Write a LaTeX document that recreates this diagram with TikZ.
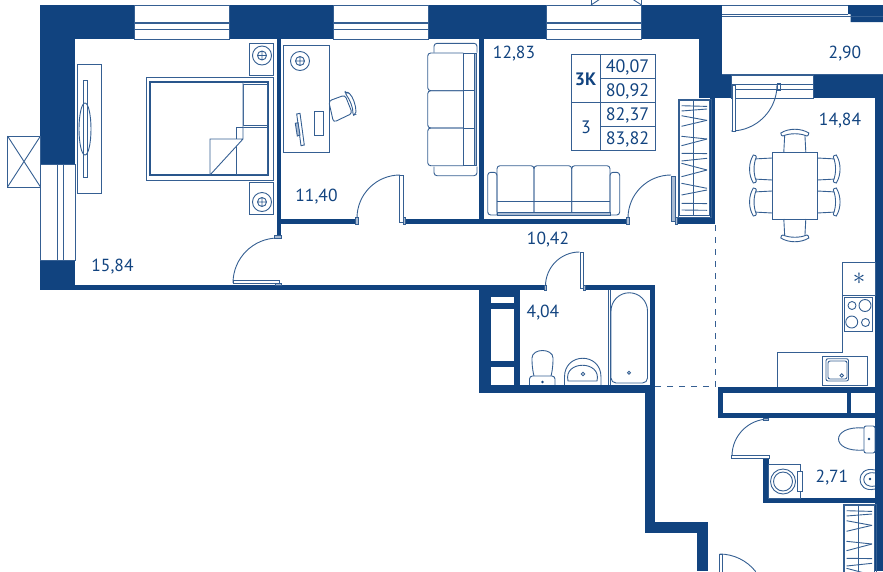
\documentclass[tikz,border=0pt]{standalone}
\usepackage{fontspec}
\setmainfont{PT Sans}
\usetikzlibrary{positioning}
\definecolor{planblue}{HTML}{11437F}
\definecolor{paleblue}{HTML}{A9BBD3}
\tikzset{
  wall/.style={fill=planblue,draw=none},
  thin line/.style={draw=planblue!85,line width=0.9pt},
  thick line/.style={draw=planblue!90,line width=1.6pt},
  area/.style={text=planblue,font=\fontsize{17.5}{18}\selectfont,inner sep=0pt},
  cell/.style={text=planblue,font=\fontsize{18}{18}\selectfont,inner sep=0pt},
  topwindow/.pic={
    \draw[thin line,fill=white] (0,0) rectangle (95,34);
    \draw[thin line] (0,17) -- (95,17) (0,18.5) -- (95,18.5) (0,24.5) -- (95,24.5);
  },
  chair/.pic={
    \draw[thin line] (-11,0) -- (-10,-19) (11,0) -- (10,-19);
    \draw[thin line,fill=white] (-14,-19) .. controls (-6,-24) and (6,-24) .. (14,-19) .. controls (14,-17) and (13,-16) .. (12,-16) .. controls (5,-19) and (-5,-19) .. (-12,-16) .. controls (-13,-16) and (-14,-17) .. cycle;
  },
  socket/.pic={
    \draw[thin line] (0,0) circle (9.5) (0,0) circle (4.5) (-4.5,0) -- (4.5,0) (0,-4.5) -- (0,4.5);
  },
  hangers/.pic={
    \draw[thin line] (0,0) rectangle (33,118);
    \draw[thin line] (1.5,1.5) rectangle (31.5,116.5);
    \draw[thin line] (15.5,1.5) -- (15.5,116.5);
    \foreach \y/\s in {6.7/0.7,12/-2,16.7/4.7,27.3/-6,37.3/2.7,46.7/-6.7,54.3/0.3,62/-2.7,64.3/6.7,77.7/-6.7,84.3/5,96/-5,104.3/0.3,111/0.3}
      \draw[thin line] (3.5,\y) -- (29,\y+\s);
  }
}
\begin{document}
\begin{tikzpicture}[x=1pt,y=-1pt]
      \useasboundingbox (0,0) rectangle (883,571);
      \clip (0,0) rectangle (883,571);

      % Outer and inner walls
      \fill[wall] (40,5) rectangle (722,39);
      \fill[wall] (40,39) rectangle (75,164);
      \fill[wall] (40,260) rectangle (75,290);
      \fill[wall] (699,39) rectangle (722,75);
      \fill[wall] (699,75) rectangle (731,98);
      \fill[wall] (813,75) rectangle (883,98);
      \fill[wall] (848,5) -- (883,5) -- (883,22) -- (850.5,22) -- (850.5,14) -- (848,14) -- cycle;
      \fill[wall] (875,98) rectangle (883,571);
      \fill[wall] (710,98) rectangle (715,224);
      \fill[wall] (277,39) rectangle (281,238);
      \fill[wall] (479,39) rectangle (484,224);
      \fill[wall] (281,219) rectangle (356,224);
      \fill[wall] (405,219) rectangle (628,224);
      \fill[wall] (677,217) rectangle (715,224);
      \fill[wall] (40,285) rectangle (545,290);
      \fill[wall] (585,285) rectangle (655,290);
      \fill[wall] (650,285) rectangle (655,393);
      \fill[wall] (479,385) rectangle (655,393);
      \fill[wall] (479,285) rectangle (491,393);
      \fill[wall] (514,285) rectangle (520,393);
      \fill[wall] (491,290) rectangle (514,297);
      \fill[wall] (491,303) rectangle (514,309);
      \fill[wall] (491,361) rectangle (514,367);
      \fill[wall] (645,393) rectangle (655,533);
      \fill[wall] (645,522) rectangle (708,533);
      \fill[wall] (696.5,533) rectangle (708,571);
      \fill[wall] (718,387) rectangle (883,392.5);
      \fill[wall] (718,387) rectangle (723,418);
      \fill[wall] (718,413) rectangle (875,418);
      \fill[wall] (846.5,392) rectangle (851,413);
      \fill[wall] (763,458) rectangle (768.5,503);
      \fill[wall] (763,498) rectangle (875,503);

      % Windows and balcony
      \pic at (134,5) {topwindow};
      \pic at (333,5) {topwindow};
      \pic at (546,5) {topwindow};
      \draw[thin line] (40,164) rectangle (75,260);
      \draw[thin line] (57,164) -- (57,260) (63.5,164) -- (63.5,260);
      \draw[thin line] (731,75) rectangle (813,98);
      \draw[thin line] (731,84) -- (813,84) (731,89) -- (813,89);
      \draw[thin line] (722,5) -- (848,5) (722,14) -- (848,14) (722,16) -- (883,16);
      \draw[thin line] (722,74.5) -- (883,74.5);
      \draw[thin line] (7.5,136) rectangle (40.5,187);
      \draw[thin line] (7.5,136) -- (40.5,187) (40.5,136) -- (7.5,187);
      \draw[thin line] (591,5) rectangle (641.5,-28);
      \draw[thin line] (591,5) -- (641.5,-28) (641.5,5) -- (591,-28);

      % Doors
      \draw[thin line] (233,283) arc[start angle=180,end angle=270,radius=45];
      \draw[thin line,fill=white] (233,280.5) rectangle (279,283.5);
      \draw[thin line,fill=paleblue] (275,283) rectangle (281,285.5) (274.5,235) rectangle (281,238);
      \draw[thin line] (357,218) arc[start angle=180,end angle=270,radius=43];
      \draw[thin line,fill=white] (399.5,175) rectangle (403,222);
      \draw[thin line,fill=paleblue] (355.5,217) rectangle (358.5,224) (403,217) rectangle (405.5,224);
      \draw[thin line] (628,218) arc[start angle=180,end angle=270,radius=43];
      \draw[thin line,fill=paleblue] (671.5,176) rectangle (675,221);
      \draw[thin line,fill=paleblue] (626.5,217) rectangle (629,224) (675,217) rectangle (677.5,224);
      \draw[thin line] (545.5,286) arc[start angle=180,end angle=270,radius=34];
      \draw[thin line,fill=white] (580,252) rectangle (583.5,288);
      \draw[thin line,fill=paleblue] (544,285) rectangle (546,290) (583.5,285) rectangle (585.5,290);
      \draw[thin line] (777,85) arc[start angle=0,end angle=90,radius=46];
      \draw[thin line,fill=white] (732,85) rectangle (735,131);
      \draw[thin line] (777.5,83) rectangle (780,90);
      \draw[thin line] (732,456) arc[start angle=180,end angle=270,radius=37];
      \draw[thin line,fill=white] (731.5,455) rectangle (769,458);
      \draw[thin line,fill=paleblue] (763,418) rectangle (768,420.5);
      \draw[thin line] (719.5,554) arc[start angle=-90,end angle=-38,radius=46];
      \draw[thin line] (719,554) rectangle (722,580);

      % Dashed zone lines
      \draw[thin line,dashed,dash pattern=on 6pt off 6pt] (715.5,225) -- (715.5,386.5) -- (655,386.5);

      % Bedroom furniture
      \draw[thin line] (77,64) rectangle (101,193.5);
      \draw[thin line] (83,80) rectangle (87,177);
      \draw[thin line] (85,129) ellipse (6 and 26);
      \draw[thin line] (146,77.5) rectangle (273,180);
      \draw[thick line] (150,82) rectangle (268,175);
      \draw[thin line,fill=white] (243,84) rectangle (267.5,125);
      \draw[thin line,fill=white] (236,127) rectangle (267.5,174);
      \draw[thin line,fill=white] (243,82) -- (243,139) -- (210,175) -- (210,139) -- (243,139);
      \draw[thin line] (249.5,43) rectangle (273.5,75);
      \draw[thin line] (249.5,182) rectangle (273.5,214);
      \pic at (262,55.5) {socket};
      \pic at (262,202) {socket};

      % Study furniture
      \draw[thin line] (283.5,45) rectangle (329,152);
      \pic at (300,61) {socket};
      \draw[thin line] (296.7,114) -- (300,113.3) -- (304.3,145) -- (301,145.7) -- cycle;
      \draw[thin line,fill=paleblue] (295.3,123.3) -- (298,122.7) -- (300,135) -- (297.3,136) -- cycle;
      \draw[thin line] (314.3,111) rectangle (323.3,135.7);
      \draw[thin line,rounded corners=3pt] (328.7,101) -- (345,95) -- (352.3,113.3) -- (333.5,122.3) -- cycle;
      \draw[thin line,fill=white,rounded corners=2pt] (345,93) -- (348,92) .. controls (353,97) and (356,105) .. (356,114) -- (353,115.5) .. controls (353,107) and (350,100) .. cycle;
      \draw[thin line,rounded corners=3pt] (434,52.5) -- (434,43.3) -- (477,43.3) -- (477,52.5);
      \draw[thin line,rounded corners=3pt] (434,166.5) -- (434,175.7) -- (477,175.7) -- (477,166.5);
      \foreach \a/\b in {53/90.7,90.7/128,128/165.7}
        \draw[thin line,rounded corners=3pt] (463.3,\a) -- (427.7,\a) -- (427.7,\b) -- (463.3,\b);
      \draw[thin line] (463.3,53) -- (463.3,165.7) (463.3,53) -- (474,53) -- (474,165.7) -- (463.3,165.7);
      \draw[thin line] (463.3,90.7) -- (474,90.7) (463.3,128) -- (474,128);
      \draw[thin line,fill=paleblue] (474,53) rectangle (476,165.7);

      % Living room furniture
      \draw[thin line,rounded corners=3pt] (497,215) -- (487.7,215) -- (487.7,172.3) -- (497,172.3) -- (497,215);
      \draw[thin line,rounded corners=3pt] (610,215) -- (619.7,215) -- (619.7,172.3) -- (610,172.3) -- (610,215);
      \foreach \a/\b in {497/534,534/571.7,571.7/610}
        \draw[thin line,rounded corners=3pt] (\a,212) -- (\a,165.7) -- (\b,165.7) -- (\b,212);
      \draw[thin line] (497,201) -- (610,201);
      \draw[thin line,fill=paleblue] (497,212) rectangle (610,215);

      % Apartment table
      \draw[thin line] (571.5,54.5) rectangle (655,150.5);
      \draw[thin line] (600,54.5) -- (600,150.5);
      \draw[thin line] (571.5,102.5) -- (655,102.5);
      \draw[thin line] (600,78.5) -- (655,78.5) (600,126.5) -- (655,126.5);
      \node[cell,font=\fontsize{18}{18}\selectfont\bfseries] (rooms) at (585.5,79) {3К};
      \node[cell] (count) at (586,127.5) {3};
      \node[cell] (living) at (627.5,67.5) {40,07};
      \node[cell] (total) at (627.5,91) {80,92};
      \node[cell] (withbalcony) at (627.5,115) {82,37};
      \node[cell] (full) at (627.5,139) {83,82};

      % Wardrobes
      \pic at (678,99) {hangers};
      \pic at (843,504) {hangers};

      % Dining table and chairs
      \draw[thin line] (772.3,152) rectangle (817.3,219);
      \pic at (794.8,152) {chair};
      \pic[rotate=180] at (794.8,219) {chair};
      \pic[rotate=90] at (772.3,169) {chair};
      \pic[rotate=90] at (772.3,202) {chair};
      \pic[rotate=-90] at (817.3,169) {chair};
      \pic[rotate=-90] at (817.3,202) {chair};

      % Kitchen
      \draw[thin line] (842,262) rectangle (875,295);
      \draw[thin line] (842,295) -- (842,352) -- (777,352) -- (777,387);
      \node[text=planblue,inner sep=0pt,font=\fontsize{30}{30}\selectfont] (fridge) at (859,279) {$\ast$};
      \draw[thin line] (844.5,297) rectangle (872.5,331);
      \draw[thin line] (852,305.5) circle (4) (865,305.5) circle (6) (851.7,322) circle (6) (865.5,322.5) circle (4);
      \draw[thin line] (822,356) rectangle (867.5,385);
      \draw[thin line,rounded corners=2pt] (826,358.7) rectangle (848.5,381);
      \draw[thin line,rounded corners=2pt] (828,361) rectangle (847,379);
      \draw[thin line] (841.7,375.5) circle (1.7);

      % Bathroom
      \draw[thin line] (608,290) -- (608,385) (610,290) -- (610,385);
      \draw[thin line,rounded corners=5pt] (611,311) -- (611,383) -- (647.5,383) -- (647.5,311);
      \draw[thin line] (611,311) arc[start angle=180,end angle=360,radius=18.25];
      \draw[thin line] (629,372.7) circle (1.5);
      \draw[thin line] (534,376) .. controls (532,368) and (532,362) .. (532,358) .. controls (532,348) and (553,348) .. (553,358) .. controls (553,362) and (553,368) .. (551,376);
      \draw[thin line,rounded corners=3pt] (529.5,385) -- (529.5,376) -- (555,376) -- (555,385);
      \fill[planblue] (542.5,382) circle (1.3);
      \draw[thin line] (564.5,385) -- (564.5,377) .. controls (564.5,352) and (601,352) .. (601,377) -- (601,385);
      \draw[thin line] (568,381) .. controls (563,360) and (602,360) .. (597,381) -- cycle;
      \draw[thin line] (583,374) circle (1.7);

      % Second bathroom
      \draw[thin line] (768,464) rectangle (800.5,498);
      \draw[thin line] (783,481.5) circle (12.5) (783,481.5) circle (9.5);
      \draw[thin line,fill=white] (797.5,471) rectangle (802,491);
      \draw[thin line,rounded corners=2pt] (864,426) rectangle (875,453);
      \draw[thin line] (864,428) .. controls (830,425) and (830,453) .. (864,450);
      \fill[planblue] (869,439) circle (1.3);
      \draw[thin line] (875,470) .. controls (855,465) and (855,494) .. (875,489);
      \draw[thin line] (875,473) .. controls (860,470) and (860,489) .. (875,486);
      \fill[planblue] (870,479) circle (1.3);

      % Room areas
      \node[area] (bedroom) at (112.5,266.5) {15,84};
      \node[area] (study) at (316.5,197) {11,40};
      \node[area] (living room) at (514,54) {12,83};
      \node[area] (hall) at (548,240) {10,42};
      \node[area] (bath) at (543,313) {4,04};
      \node[area] (balcony) at (845,54) {2,90};
      \node[area] (kitchen) at (840,121) {14,84};
      \node[area] (toilet) at (832,478) {2,71};
\end{tikzpicture}
\end{document}
